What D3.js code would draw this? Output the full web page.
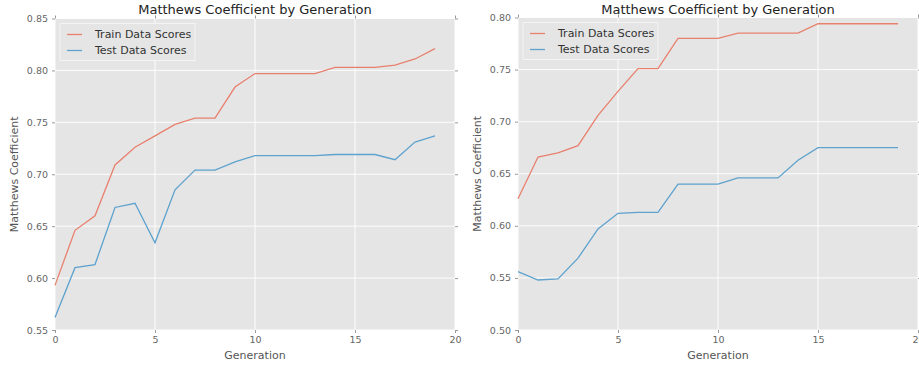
<!DOCTYPE html>
<html>
<head>
<meta charset="utf-8">
<script src="https://cdn.jsdelivr.net/npm/d3@7"></script>
<style>
	body { margin: 0; background: #fff; font-family: "DejaVu Sans", sans-serif; }
	svg text { font-family: "DejaVu Sans", sans-serif; }
</style>
</head>
<body>
<svg id="chart" width="919" height="366"></svg>
<script>

// generations 0..19
const generations = d3.range(0, 20);

// left panel
const leftTrain = [0.593, 0.646, 0.660, 0.709, 0.726, 0.737, 0.748, 0.754, 0.754, 0.784,
	0.797, 0.797, 0.797, 0.797, 0.803, 0.803, 0.803, 0.805, 0.811, 0.821];
const leftTest = [0.562, 0.610, 0.613, 0.668, 0.672, 0.634, 0.685, 0.704, 0.704, 0.712,
	0.718, 0.718, 0.718, 0.718, 0.719, 0.719, 0.719, 0.714, 0.731, 0.737];
const leftYTicks = [0.55, 0.60, 0.65, 0.70, 0.75, 0.80, 0.85];

// right panel
const rightTrain = [0.626, 0.666, 0.670, 0.677, 0.706, 0.729, 0.751, 0.751, 0.780, 0.780,
	0.780, 0.785, 0.785, 0.785, 0.785, 0.794, 0.794, 0.794, 0.794, 0.794];
const rightTest = [0.556, 0.548, 0.549, 0.569, 0.597, 0.612, 0.613, 0.613, 0.640, 0.640,
	0.640, 0.646, 0.646, 0.646, 0.663, 0.675, 0.675, 0.675, 0.675, 0.675];
const rightYTicks = [0.50, 0.55, 0.60, 0.65, 0.70, 0.75, 0.80];

const xTicks = [0, 5, 10, 15, 20];
const seriesNames = ['Train Data Scores', 'Test Data Scores'];

const svg = d3.select('#chart');

function drawPanel(opts) {

	const x = d3.scaleLinear().domain([0, 20]).range([opts.left, opts.right]);
	const y = d3.scaleLinear().domain(d3.extent(opts.yTicks)).range([opts.bottom, opts.top]);
	const g = svg.append('g');

	// background
	g.append('rect')
	.attr('x', opts.left).attr('y', opts.top)
	.attr('width', opts.right - opts.left).attr('height', opts.bottom - opts.top)
	.attr('fill', '#e5e5e5');

	// grid
	g.selectAll('.gx').data(xTicks).join('line')
	.attr('x1', d => x(d)).attr('x2', d => x(d))
	.attr('y1', opts.top).attr('y2', opts.bottom)
	.attr('stroke', '#fff').attr('stroke-width', 0.9);
	g.selectAll('.gy').data(opts.yTicks).join('line')
	.attr('x1', opts.left).attr('x2', opts.right)
	.attr('y1', d => y(d)).attr('y2', d => y(d))
	.attr('stroke', '#fff').attr('stroke-width', 0.9);

	// axes
	const tickStyle = sel => {
		sel.select('.domain').remove();
		sel.selectAll('line').attr('stroke', '#999');
		sel.selectAll('text').attr('fill', '#666').style('font-size', '9.5px');
	};
	g.append('g').attr('transform', `translate(0,${opts.bottom})`)
	.call(d3.axisBottom(x).tickValues(xTicks).tickSize(3).tickPadding(3).tickFormat(d3.format('d')))
	.call(tickStyle);
	g.append('g').attr('transform', `translate(0,${opts.top})`)
	.call(d3.axisTop(x).tickValues(xTicks).tickSize(3).tickFormat(''))
	.call(tickStyle);
	g.append('g').attr('transform', `translate(${opts.left},0)`)
	.call(d3.axisLeft(y).tickValues(opts.yTicks).tickSize(3).tickPadding(4).tickFormat(d3.format('.2f')))
	.call(tickStyle);
	g.append('g').attr('transform', `translate(${opts.right},0)`)
	.call(d3.axisRight(y).tickValues(opts.yTicks).tickSize(3).tickFormat(''))
	.call(tickStyle);

	// lines
	const line = d3.line().x((d, i) => x(generations[i])).y(d => y(d));
	const colors = ['#e8806e', '#5ea2cd'];
	[opts.train, opts.test].forEach((s, i) => {
		g.append('path').datum(s)
		.attr('d', line)
		.attr('fill', 'none')
		.attr('stroke', colors[i])
		.attr('stroke-width', 1.3);
	});

	// legend
	const lg = g.append('g').attr('transform', `translate(${opts.left + 5},${opts.top + 5})`);
	lg.append('rect')
	.attr('width', 135).attr('height', 37)
	.attr('fill', '#e5e5e5').attr('stroke', '#f4f4f4').attr('stroke-width', 1);
	seriesNames.forEach((n, i) => {
		lg.append('line')
		.attr('x1', 7).attr('x2', 22)
		.attr('y1', 11 + i * 16).attr('y2', 11 + i * 16)
		.attr('stroke', colors[i]).attr('stroke-width', 1.3);
		lg.append('text')
		.attr('x', 35).attr('y', 11 + i * 16).attr('dy', '0.35em')
		.attr('fill', '#333').style('font-size', '11px')
		.text(n);
	});

	// titles
	const cx = (opts.left + opts.right) / 2;
	g.append('text')
	.attr('x', cx).attr('y', 14)
	.attr('text-anchor', 'middle').attr('fill', '#222').style('font-size', '13px')
	.text('Matthews Coefficient by Generation');
	g.append('text')
	.attr('x', cx).attr('y', 359)
	.attr('text-anchor', 'middle').attr('fill', '#555').style('font-size', '11px')
	.text('Generation');
	g.append('text')
	.attr('transform', `translate(${opts.left - 37},${(opts.top + opts.bottom) / 2}) rotate(-90)`)
	.attr('text-anchor', 'middle').attr('fill', '#555').style('font-size', '11px')
	.text('Matthews Coefficient');
}

drawPanel({ left: 55, right: 455, top: 18.5, bottom: 330, yTicks: leftYTicks, train: leftTrain, test: leftTest });
drawPanel({ left: 518, right: 918, top: 17.5, bottom: 330, yTicks: rightYTicks, train: rightTrain, test: rightTest });

</script>
</body>
</html>
